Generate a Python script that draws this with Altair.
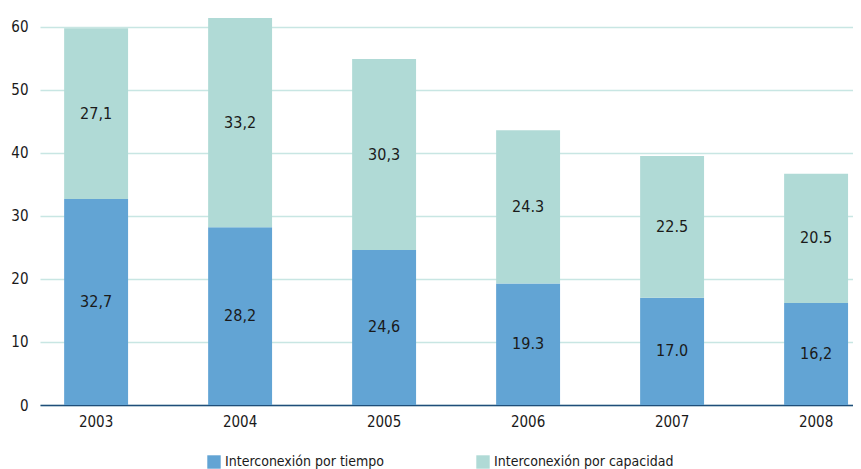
import altair as alt
import pandas as pd

years = ["2003", "2004", "2005", "2006", "2007", "2008"]
tiempo = [32.7, 28.2, 24.6, 19.3, 17.0, 16.2]
tiempo_labels = ["32,7", "28,2", "24,6", "19.3", "17.0", "16,2"]
capacidad = [27.1, 33.2, 30.3, 24.3, 22.5, 20.5]
capacidad_labels = ["27,1", "33,2", "30,3", "24.3", "22.5", "20.5"]
series = ["Interconexión por tiempo", "Interconexión por capacidad"]
colors = ["#62a4d4", "#b0dad6"]

rows = []
for i, y in enumerate(years):
    rows.append({"year": y, "serie": series[0], "value": tiempo[i], "label": tiempo_labels[i], "ord": 0})
    rows.append({"year": y, "serie": series[1], "value": capacidad[i], "label": capacidad_labels[i], "ord": 1})
df = pd.DataFrame(rows)

FONT = "DejaVu Sans Condensed, DejaVu Sans, sans-serif"

base = alt.Chart(df).transform_stack(
    stack="value", groupby=["year"], as_=["y0", "y1"], sort=[{"field": "ord", "order": "ascending"}]
).transform_calculate(mid="(datum.y0 + datum.y1) / 2")

xenc = alt.X(
    "year:N",
    title=None,
    scale=alt.Scale(paddingInner=0.556, paddingOuter=0.101, align=0.83),
    axis=alt.Axis(
        labelAngle=0, labelFontSize=15, labelColor="#1a1a1a", labelPadding=9,
        ticks=False, domainColor="#1f4e79", domainWidth=1.5, grid=False,
    ),
)

bars = base.mark_bar().encode(
    x=xenc,
    y=alt.Y(
        "y0:Q", title=None,
        scale=alt.Scale(domain=[0, 63], nice=False),
        axis=alt.Axis(
            values=[0, 10, 20, 30, 40, 50, 60], labelFontSize=15, labelColor="#1a1a1a",
            ticks=False, domain=False, gridColor="#c8e6e3", gridWidth=1.5, labelPadding=12,
            minExtent=32,
        ),
    ),
    y2="y1:Q",
    color=alt.Color(
        "serie:N", title=None,
        scale=alt.Scale(domain=series, range=colors),
        legend=alt.Legend(
            orient="none", legendX=167, legendY=447, direction="horizontal",
            symbolType="square", symbolSize=180, symbolStrokeWidth=0, padding=0,
            labelFontSize=14, labelColor="#1a1a1a", columnPadding=91, labelLimit=300,
        ),
    ),
)

texts = base.mark_text(fontSize=16, color="#1a1a1a", font=FONT).encode(
    x=alt.X("year:N"),
    y=alt.Y("mid:Q"),
    text="label:N",
)

chart = (bars + texts).properties(width=813, height=397, padding=0).configure(
    font=FONT
).configure_view(stroke=None).configure_axis(labelFont=FONT).configure_legend(labelFont=FONT)

chart.save("out.html", embed_options={"renderer": "svg", "actions": False})
